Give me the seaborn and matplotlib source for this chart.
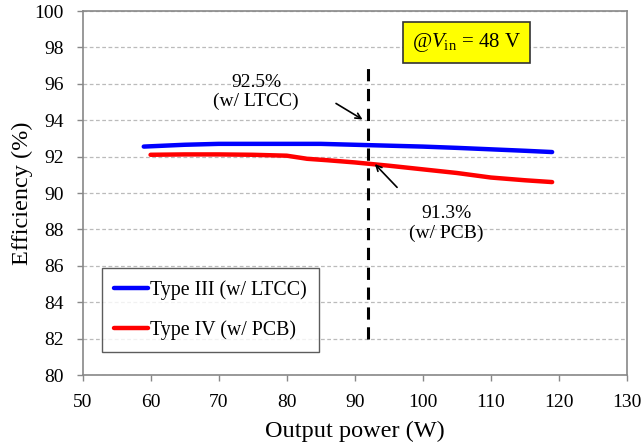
import matplotlib
matplotlib.use("Agg")
import matplotlib.pyplot as plt
import seaborn as sns
import pandas as pd
from matplotlib.lines import Line2D

blue_x = [59, 62, 65, 70, 75, 80, 85, 90, 95, 100, 105, 110, 115, 119]
blue_y = [92.55, 92.6, 92.65, 92.7, 92.7, 92.7, 92.7, 92.65, 92.6, 92.55, 92.48, 92.4, 92.32, 92.25]
red_x = [60, 65, 70, 75, 80, 83, 86, 90, 95, 100, 105, 110, 115, 119]
red_y = [92.1, 92.12, 92.12, 92.1, 92.05, 91.88, 91.8, 91.68, 91.5, 91.3, 91.1, 90.85, 90.7, 90.6]
series_names = ["Type III (w/ LTCC)", "Type IV (w/ PCB)"]

df = pd.concat([
    pd.DataFrame({"P": blue_x, "E": blue_y, "s": series_names[0]}),
    pd.DataFrame({"P": red_x, "E": red_y, "s": series_names[1]}),
])

sns.set_style("white")
plt.rcParams['font.family'] = ['Liberation Serif', 'DejaVu Serif']
plt.rcParams['mathtext.fontset'] = 'custom'
plt.rcParams['mathtext.rm'] = 'Liberation Serif'
plt.rcParams['mathtext.it'] = 'Liberation Serif:italic'
plt.rcParams['text.color'] = 'black'
plt.rcParams['axes.labelcolor'] = 'black'
plt.rcParams['xtick.color'] = '#888888'
plt.rcParams['ytick.color'] = '#888888'
plt.rcParams['xtick.labelcolor'] = 'black'
plt.rcParams['ytick.labelcolor'] = 'black'

fig = plt.figure(figsize=(6.43, 4.45), dpi=100)
ax = fig.add_axes([82.5/643, 70/445, 544.5/643, 364/445])

sns.lineplot(data=df, x="P", y="E", hue="s", palette=["#0000FF", "#FF0000"],
             linewidth=3.2, ax=ax, legend=False, sort=False)

ax.set_xlim(50, 130)
ax.set_ylim(80, 100)
ax.set_xticks(range(50, 131, 10))
ax.set_yticks(range(80, 101, 2))
ax.tick_params(axis='both', labelsize=14, length=4.5, width=1, direction='out', pad=9)
ax.tick_params(axis='x', bottom=True)
ax.tick_params(axis='y', left=True)
ax.yaxis.grid(True, linestyle=(0, (3, 2)), color="#BBBBBB", linewidth=0.9)
ax.xaxis.grid(False)
for sp in ax.spines.values():
    sp.set_color("#888888")
    sp.set_linewidth(1.2)
ax.set_xlabel("Output power (W)", fontsize=17.5, labelpad=7)
ax.set_ylabel("Efficiency (%)", fontsize=17.5, labelpad=1)

# vertical dashed marker
ax.plot([92, 92], [82, 96.9], color="black", linestyle=(0, (4, 2.5)), linewidth=2.2)

ax.annotate("", xy=(91.5, 93.96), xytext=(86.9, 95.0),
            arrowprops=dict(arrowstyle="->", color="black", lw=1.2))
ax.text(75.5, 95.55, "92.5%\n(w/ LTCC)", ha="center", va="center", fontsize=14, linespacing=1.2)

ax.annotate("", xy=(92.67, 91.7), xytext=(96.5, 90.2),
            arrowprops=dict(arrowstyle="->", color="black", lw=1.2))
ax.text(103.5, 88.3, "91.3%\n(w/ PCB)", ha="center", va="center", fontsize=14, linespacing=1.2)

ax.text(106.4, 98.27, r"@$\mathit{V}_{\mathrm{in}}$ = 48 V", ha="center", va="center", fontsize=15,
        bbox=dict(boxstyle="square,pad=0.42", facecolor="#FFFF00", edgecolor="#333333", linewidth=1.2))

handles = [Line2D([], [], color="#0000FF", lw=3.2), Line2D([], [], color="#FF0000", lw=3.2)]
leg = ax.legend(handles, series_names, loc="lower left", bbox_to_anchor=(0.036, 0.063),
                fontsize=14.3, frameon=True, fancybox=False, edgecolor="#333333",
                handlelength=1.7, handletextpad=0.12, labelspacing=1.05, borderpad=0.6,
                borderaxespad=0)
leg.get_frame().set_linewidth(1.0)

fig.savefig("out.png", dpi=100)
